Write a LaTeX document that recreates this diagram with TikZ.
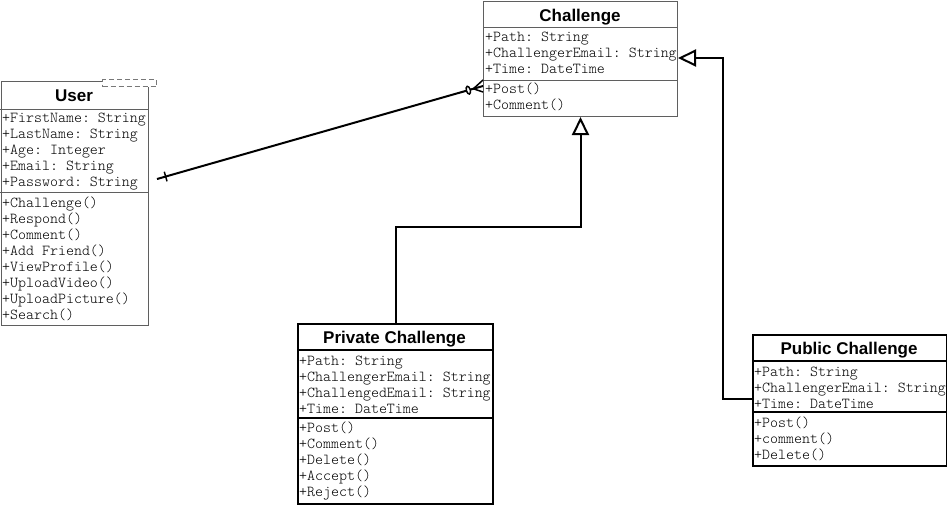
\documentclass[tikz,border=0pt]{standalone}
\usepackage{fontspec}
\setmainfont{Liberation Sans}
\setmonofont{Latin Modern Mono Light}
\usetikzlibrary{arrows.meta,calc,shapes.geometric}
\definecolor{boxgray}{RGB}{95,95,95}
\definecolor{dashgray}{RGB}{120,120,120}
\tikzset{
  classbox/.style={draw, inner sep=0pt, anchor=north west, fill=white},
  thinbox/.style={classbox, draw=boxgray, line width=1pt},
  thickbox/.style={classbox, draw=black, line width=2pt},
  thindiv/.style={draw=boxgray, line width=1pt},
  thickdiv/.style={draw=black, line width=2pt},
  ttl/.style={font=\fontsize{17}{20}\selectfont\bfseries, anchor=base, inner sep=0pt},
  mem/.style={font=\fontsize{15.2}{16}\selectfont\ttfamily, anchor=base west, inner sep=0pt},
  gen/.style={draw=black, line width=2pt, -{Triangle[open, length=18pt, width=17pt]}},
  assoc/.style={draw=black, line width=2pt},
}
\begin{document}
\begin{tikzpicture}[x=1pt,y=-1pt]
\useasboundingbox (0,0) rectangle (947,504);
\fill[white] (0,0) rectangle (947,504);

% ---------- Challenge ----------
\node[thinbox, minimum width=194pt, minimum height=115.5pt] (chal) at (483,0.5) {};
\draw[thindiv] (483,27) -- (677,27);
\draw[thindiv] (483,80) -- (677,80);
\node[ttl] (chalt) at (580,21) {Challenge};
\foreach \t [count=\i] in {+Path: String,+ChallengerEmail: String,+Time: DateTime}
  \node[mem] (ca\i) at (485,{25+16*\i}) {\t};
\foreach \t [count=\i] in {+Post(),+Comment()}
  \node[mem] (cm\i) at (485,{77+16*\i}) {\t};

% ---------- User ----------
\node[thinbox, minimum width=147.5pt, minimum height=244pt] (user) at (0.5,81) {};
\draw[thindiv] (0,109) -- (148,109);
\draw[thindiv] (0,192) -- (148,192);
\node[fill=white, draw=dashgray, dashed, line width=1pt, dash pattern=on 5pt off 3pt,
      inner sep=0pt, anchor=north west, minimum width=54pt, minimum height=7pt] (tmpl) at (102,79) {};
\node[ttl] (usert) at (74,101) {User};
\foreach \t [count=\i] in {+FirstName: String,+LastName: String,+Age: Integer,+Email: String,+Password: String}
  \node[mem] (ua\i) at (2,{106+16*\i}) {\t};
\foreach \t [count=\i] in {+Challenge(),+Respond(),+Comment(),+Add Friend(),+ViewProfile(),+UploadVideo(),+UploadPicture(),+Search()}
  \node[mem] (um\i) at (2,{191+16*\i}) {\t};

% ---------- Private Challenge ----------
\node[thickbox, minimum width=195pt, minimum height=180pt] (priv) at (297,323) {};
\draw[thickdiv] (297,350) -- (492,350);
\draw[thickdiv] (297,418) -- (492,418);
\node[ttl] (privt) at (394.5,343) {Private Challenge};
\foreach \t [count=\i] in {+Path: String,+ChallengerEmail: String,+ChallengedEmail: String,+Time: DateTime}
  \node[mem] (pa\i) at (299,{349+16*\i}) {\t};
\foreach \t [count=\i] in {+Post(),+Comment(),+Delete(),+Accept(),+Reject()}
  \node[mem] (pm\i) at (299,{416+16*\i}) {\t};

% ---------- Public Challenge ----------
\node[thickbox, minimum width=194pt, minimum height=131pt] (pub) at (752,334) {};
\draw[thickdiv] (752,361) -- (946,361);
\draw[thickdiv] (752,412) -- (946,412);
\node[ttl] (pubt) at (849,354) {Public Challenge};
\foreach \t [count=\i] in {+Path: String,+ChallengerEmail: String,+Time: DateTime}
  \node[mem] (ba\i) at (754,{360+16*\i}) {\t};
\foreach \t [count=\i] in {+Post(),+comment(),+Delete()}
  \node[mem] (bm\i) at (754,{411+16*\i}) {\t};

% ---------- Generalisations ----------
\draw[gen] (priv.north) -- (priv.north |- 0,227) -| (chal.south);
\coordinate (pubin) at (pub.west |- 0,399);
\coordinate (chalin) at (chal.east |- 0,58);
\draw[gen] (pubin) -- (723,399) -- (723,58) -- (chalin);

% ---------- Association ----------
\coordinate (uend) at (157,179);
\coordinate (cend) at (483,86);
\draw[assoc] (uend) -- (cend);
% one (tick) at user end
\coordinate (tk) at ($(uend)!9pt!(cend)$);
\draw[assoc, line width=1.5pt] ($(tk)!5pt!90:(cend)$) -- ($(tk)!5pt!-90:(cend)$);
% zero (circle) and many (crow's foot) at challenge end
\path (uend) -- (cend) node[pos=0.955, sloped, ellipse, draw=black, line width=1.5pt, fill=white,
   minimum width=4pt, minimum height=8pt, inner sep=0pt] (zero) {};
\coordinate (vx) at ($(cend)!10pt!(uend)$);
\draw[assoc, line width=1.5pt] (vx) -- (483,80);
\draw[assoc, line width=1.5pt] (vx) -- (483,92);
\end{tikzpicture}
\end{document}
